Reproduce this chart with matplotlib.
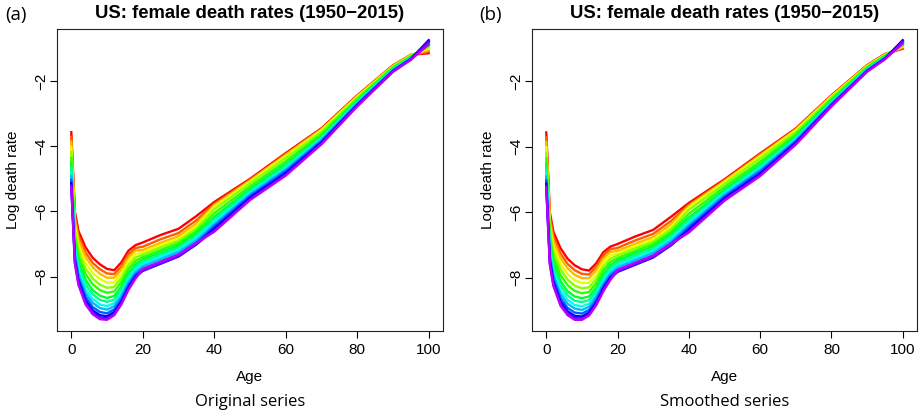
import numpy as np
import matplotlib
matplotlib.use("Agg")
import matplotlib.pyplot as plt
from matplotlib.colors import hsv_to_rgb

# Data (log death rates, one row per year)
ages = [0, 1, 2, 4, 6, 8, 10, 12, 14, 16, 18, 20, 25, 30, 35, 40, 50, 60, 70, 80, 90, 95, 100]
years = [1950, 1955, 1960, 1965, 1970, 1975, 1980, 1985, 1990, 1995, 2000, 2005, 2010, 2015]
n_years_total = 66  # 1950-2015 in the original figure, used for the colour scale

orig_rates = [
    [-3.57, -6.00, -6.60, -7.10, -7.42, -7.62, -7.76, -7.80, -7.56, -7.20, -7.03, -6.95, -6.72, -6.53, -6.14, -5.71, -5.00, -4.21, -3.45, -2.44, -1.52, -1.20, -1.15],
    [-3.72, -6.14, -6.75, -7.26, -7.58, -7.77, -7.90, -7.92, -7.68, -7.31, -7.12, -7.08, -6.85, -6.66, -6.27, -5.77, -5.03, -4.24, -3.47, -2.46, -1.53, -1.21, -1.10],
    [-3.86, -6.27, -6.88, -7.40, -7.71, -7.91, -8.03, -8.03, -7.78, -7.40, -7.20, -7.18, -6.96, -6.76, -6.37, -5.81, -5.06, -4.27, -3.49, -2.47, -1.54, -1.21, -1.05],
    [-4.02, -6.43, -7.05, -7.57, -7.89, -8.07, -8.18, -8.17, -7.91, -7.52, -7.31, -7.25, -7.03, -6.83, -6.45, -5.85, -5.08, -4.30, -3.51, -2.48, -1.55, -1.22, -1.00],
    [-4.19, -6.59, -7.21, -7.75, -8.06, -8.24, -8.34, -8.31, -8.04, -7.64, -7.41, -7.32, -7.10, -6.90, -6.52, -5.93, -5.14, -4.36, -3.56, -2.51, -1.56, -1.23, -0.95],
    [-4.36, -6.75, -7.38, -7.92, -8.23, -8.41, -8.49, -8.45, -8.17, -7.76, -7.51, -7.40, -7.18, -6.97, -6.60, -6.05, -5.23, -4.46, -3.63, -2.56, -1.59, -1.25, -0.92],
    [-4.53, -6.91, -7.54, -8.10, -8.41, -8.58, -8.65, -8.59, -8.30, -7.88, -7.61, -7.47, -7.25, -7.04, -6.67, -6.16, -5.31, -4.54, -3.69, -2.60, -1.62, -1.27, -0.90],
    [-4.66, -7.04, -7.67, -8.24, -8.54, -8.71, -8.77, -8.70, -8.40, -7.98, -7.69, -7.54, -7.32, -7.11, -6.74, -6.24, -5.37, -4.60, -3.73, -2.63, -1.63, -1.29, -0.88],
    [-4.80, -7.17, -7.80, -8.38, -8.68, -8.85, -8.90, -8.81, -8.50, -8.08, -7.77, -7.61, -7.39, -7.18, -6.81, -6.32, -5.42, -4.66, -3.77, -2.66, -1.65, -1.30, -0.85],
    [-4.91, -7.28, -7.92, -8.50, -8.80, -8.96, -9.01, -8.90, -8.59, -8.16, -7.85, -7.68, -7.46, -7.24, -6.88, -6.39, -5.47, -4.71, -3.81, -2.69, -1.67, -1.31, -0.82],
    [-5.03, -7.39, -8.04, -8.62, -8.93, -9.08, -9.12, -9.00, -8.68, -8.24, -7.92, -7.76, -7.54, -7.32, -6.95, -6.45, -5.52, -4.76, -3.84, -2.71, -1.68, -1.32, -0.78],
    [-5.13, -7.49, -8.13, -8.73, -9.03, -9.18, -9.21, -9.08, -8.76, -8.32, -7.98, -7.82, -7.60, -7.38, -7.01, -6.52, -5.57, -4.82, -3.88, -2.74, -1.70, -1.33, -0.75],
    [-5.20, -7.55, -8.20, -8.80, -9.10, -9.25, -9.27, -9.14, -8.81, -8.36, -8.02, -7.81, -7.59, -7.37, -7.00, -6.58, -5.62, -4.87, -3.92, -2.76, -1.71, -1.34, -0.80],
    [-5.25, -7.60, -8.25, -8.85, -9.15, -9.30, -9.32, -9.18, -8.85, -8.40, -8.05, -7.76, -7.54, -7.32, -6.96, -6.62, -5.65, -4.90, -3.94, -2.78, -1.72, -1.35, -0.88],
]

smooth_rates = [
    [-3.57, -6.00, -6.60, -7.10, -7.42, -7.62, -7.74, -7.78, -7.56, -7.22, -7.05, -6.97, -6.74, -6.54, -6.14, -5.72, -5.00, -4.21, -3.45, -2.44, -1.52, -1.18, -1.02],
    [-3.72, -6.14, -6.75, -7.26, -7.58, -7.77, -7.88, -7.90, -7.67, -7.32, -7.13, -7.09, -6.86, -6.66, -6.27, -5.78, -5.03, -4.24, -3.47, -2.46, -1.53, -1.19, -1.00],
    [-3.86, -6.27, -6.88, -7.40, -7.71, -7.91, -8.01, -8.01, -7.77, -7.41, -7.21, -7.18, -6.96, -6.76, -6.37, -5.81, -5.06, -4.27, -3.49, -2.47, -1.54, -1.20, -0.97],
    [-4.02, -6.43, -7.05, -7.57, -7.89, -8.07, -8.16, -8.15, -7.90, -7.53, -7.32, -7.25, -7.03, -6.83, -6.45, -5.85, -5.08, -4.30, -3.51, -2.48, -1.55, -1.21, -0.95],
    [-4.19, -6.59, -7.21, -7.75, -8.06, -8.24, -8.32, -8.29, -8.03, -7.65, -7.42, -7.32, -7.10, -6.90, -6.52, -5.93, -5.14, -4.36, -3.56, -2.51, -1.56, -1.22, -0.92],
    [-4.36, -6.75, -7.38, -7.92, -8.23, -8.40, -8.47, -8.43, -8.16, -7.77, -7.52, -7.40, -7.18, -6.97, -6.60, -6.05, -5.23, -4.46, -3.63, -2.56, -1.59, -1.24, -0.90],
    [-4.53, -6.91, -7.54, -8.10, -8.41, -8.57, -8.62, -8.57, -8.29, -7.89, -7.62, -7.47, -7.25, -7.04, -6.67, -6.16, -5.31, -4.54, -3.69, -2.60, -1.62, -1.26, -0.88],
    [-4.66, -7.04, -7.67, -8.24, -8.54, -8.70, -8.74, -8.68, -8.39, -7.99, -7.70, -7.54, -7.32, -7.11, -6.74, -6.24, -5.37, -4.60, -3.73, -2.63, -1.63, -1.28, -0.86],
    [-4.80, -7.17, -7.80, -8.38, -8.67, -8.83, -8.87, -8.79, -8.49, -8.09, -7.78, -7.61, -7.39, -7.18, -6.81, -6.32, -5.42, -4.66, -3.77, -2.66, -1.65, -1.29, -0.84],
    [-4.91, -7.28, -7.92, -8.50, -8.79, -8.94, -8.98, -8.88, -8.58, -8.17, -7.86, -7.68, -7.46, -7.24, -6.88, -6.39, -5.47, -4.71, -3.81, -2.69, -1.67, -1.30, -0.82],
    [-5.03, -7.39, -8.04, -8.62, -8.92, -9.06, -9.09, -8.98, -8.67, -8.25, -7.93, -7.76, -7.54, -7.32, -6.95, -6.45, -5.52, -4.76, -3.84, -2.71, -1.68, -1.31, -0.79],
    [-5.13, -7.49, -8.13, -8.73, -9.02, -9.16, -9.18, -9.06, -8.75, -8.33, -7.99, -7.82, -7.60, -7.38, -7.01, -6.52, -5.57, -4.82, -3.88, -2.74, -1.70, -1.32, -0.76],
    [-5.20, -7.55, -8.20, -8.80, -9.09, -9.23, -9.24, -9.12, -8.80, -8.37, -8.03, -7.81, -7.59, -7.37, -7.00, -6.58, -5.62, -4.87, -3.92, -2.76, -1.71, -1.33, -0.80],
    [-5.25, -7.60, -8.25, -8.85, -9.14, -9.28, -9.28, -9.15, -8.84, -8.41, -8.06, -7.76, -7.54, -7.32, -6.96, -6.62, -5.65, -4.90, -3.94, -2.78, -1.72, -1.34, -0.86],
]

title_text = "US: female death rates (1950\u22122015)"
panel_tags = ["(a)", "(b)"]
captions = ["Original series", "Smoothed series"]
x_ticks = [0, 20, 40, 60, 80, 100]
y_ticks = [-8, -6, -4, -2]

plt.rcParams['font.family'] = ['Liberation Sans', 'DejaVu Sans']

fig = plt.figure(figsize=(9.23, 4.15), dpi=100)
W, H = 923.0, 415.0

boxes = [(57, 29, 443, 331), (532, 29, 917, 331)]  # left, top, right, bottom in px
tables = [orig_rates, smooth_rates]


def year_colour(yr):
    # R-style rainbow(n*1.25)[1:n]: hue runs from red to purple
    hue = (yr - years[0]) / (1.25 * n_years_total)
    return hsv_to_rgb([hue, 1.0, 1.0])


for i in range(2):
    l, t, r, b = boxes[i]
    ax = fig.add_axes([l / W, 1 - b / H, (r - l) / W, (b - t) / H])
    for yr, row in zip(years, tables[i]):
        ax.plot(ages, row, color=year_colour(yr), lw=1.7, solid_joinstyle='round')
    ax.margins(x=0.04, y=0.04)
    ax.set_xticks(x_ticks)
    ax.set_yticks(y_ticks)
    ax.tick_params(direction='out', length=5, width=0.8, labelsize=11, colors='black')
    ax.tick_params(axis='x', pad=3.5)
    ax.tick_params(axis='y', pad=1, labelrotation=90)
    for lab in ax.get_yticklabels():
        lab.set_va('center')
    for s in ax.spines.values():
        s.set_linewidth(0.8)
        s.set_color('#222222')

    cx = (l + r) / 2 / W
    fig.text(cx, 1 - 14 / H, title_text, ha='center', va='center', fontsize=13.3, fontweight='bold')
    fig.text(cx, 1 - 377 / H, "Age", ha='center', va='center', fontsize=11)
    fig.text(cx, 1 - 402 / H, captions[i], ha='center', va='center', fontsize=12, family='Open Sans')
    fig.text((l - 44) / W, (1 - (t + b) / 2 / H), "Log death rate", rotation=90,
             ha='center', va='center', fontsize=11)
    tag_x = 5 if i == 0 else 479
    fig.text(tag_x / W, 1 - 15 / H, panel_tags[i], ha='left', va='center', fontsize=13.5, family='Open Sans')

fig.savefig("out.png", dpi=100)
